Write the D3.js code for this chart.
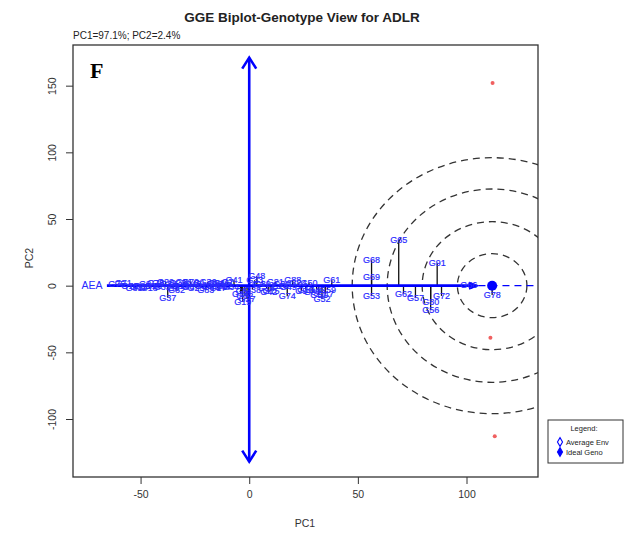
<!DOCTYPE html>
<html>
<head>
<meta charset="utf-8">
<script src="https://cdn.jsdelivr.net/npm/d3@7"></script>
<style>
  html, body { margin: 0; padding: 0; background: #fff; }
  svg { display: block; font-family: "Liberation Sans", Arial, sans-serif; }
</style>
</head>
<body>
<svg id="chart" width="627" height="537"></svg>
<script>
// Genotype scores on the first two principal components
const genoNames = [
  "G75","G71","G73","G11","G2","G18","G26","G3","G35","G29","G84","G37","G8","G23","G13","G31","G6","G40","G25","G1",
  "G20","G36","G43","G10","G17","G46","G22","G7","G34","G41",
  "G81","G85","G76","G82","G79","G83","G86","G87",
  "G5","G12","G19","G27","G44","G48","G33","G4","G38","G14","G21","G39","G15","G28","G74","G88","G24","G16","G9","G30",
  "G45","G52","G47","G61","G59","G32","G50","G42","G49","G51",
  "G68","G69","G53","G65","G62","G57","G80","G56","G91","G72","G66","G78"
];
const genoPC1 = [
  -61, -58, -55, -51, -48, -46, -44, -42, -40, -38.5, -37, -37.5, -35, -33, -31.5, -30, -28, -26, -24.5, -23,
  -21, -19, -17.5, -16, -14.5, -13, -11.5, -10, -8.5, -7,
  -53, -49.5, -43, -33.5, -27, -20, -15, -12,
  -3.5, -2, -3, -1, -4, 3.5, 2.5, 4, 1.5, 8, 12, 6, 10, 14, 17.5, 20, 22.5, 26, 24, 29,
  31, 33.5, 35, 38, 36, 15, 27.5, 9, 18, 32,
  56.3, 56.3, 56.3, 68.8, 71, 76.5, 83.5, 83.5, 86.5, 88.5, 101, 111.8
];
const genoPC2 = [
  1, 2, 0, -1, 1, -2, 0, 2, -1, 3, 1, -9, -2, 2, 0, 3, -1, 1, -2, 2,
  0, 3, -1, 1, -2, 2, 0, 3, -1, 4,
  -2, 0, 2, -3, 3, -3, 2, -1,
  -4, -8, -12, -10, -6, 7, 4, 1, -3, -2, 3, 1, -4, 0, -8, 4, 2, -3, -4, -5,
  -3, -10, -6, 4, -3, 1, 2, -5, -1, -7,
  19, 6.5, -7.7, 34, -6, -9, -12, -18.5, 17, -7.7, 0.5, -7
];

// Environment points and the ranking reference point
const envPC1 = [112, 111, 113];
const envPC2 = [152, -39, -113];
const idealPC1 = 111.8, idealPC2 = 0;

// Concentric rings around the ideal genotype (radii in PC1 / PC2 units)
const ringPC1 = [16, 32.2, 48.3, 64.4];
const ringPC2 = [24, 48, 72.5, 96];

// Axis lines: vertical PC2 arrow and average environment axis (AEA)
const vAxisPC2 = [-132, 171];
const aeaPC1 = [-65.5, 105.5];

const xTicks = [-50, 0, 50, 100];
const yTicks = [-100, -50, 0, 50, 100, 150];

const svg = d3.select("#chart");
const padL = 73, padR = 538, padT = 45, padB = 477;

const x = d3.scaleLinear().domain([-81.1, 132.9]).range([padL, padR]);
const y = d3.scaleLinear().domain([-143.5, 180.5]).range([padB, padT]);

const blue = "#0000ff";
const labelBlue = "#2a2aff";
const axisGrey = "#333";

svg.append("defs").append("clipPath").attr("id", "plotClip")
  .append("rect").attr("x", padL).attr("y", padT)
  .attr("width", padR - padL).attr("height", padB - padT);

// Titles
svg.append("text").attr("x", 302).attr("y", 22).attr("text-anchor", "middle")
  .attr("font-size", 13.5).attr("font-weight", "bold").attr("fill", "#222")
  .text("GGE Biplot-Genotype View for ADLR");
svg.append("text").attr("x", 73).attr("y", 39)
  .attr("font-size", 10).attr("fill", "#222")
  .text("PC1=97.1%; PC2=2.4%");

// Axes
const xAxis = d3.axisBottom(x).tickValues(xTicks).tickSize(7).tickPadding(7)
  .tickFormat(d => String(d));
const gx = svg.append("g").attr("transform", `translate(0,${padB})`).call(xAxis);
gx.select(".domain").remove();
gx.selectAll("line").attr("stroke", axisGrey);
gx.selectAll("text").attr("font-size", 10.5).attr("fill", axisGrey)
  .attr("font-family", "'Liberation Sans', Arial, sans-serif");

const yAxis = d3.axisLeft(y).tickValues(yTicks).tickSize(7)
  .tickFormat(d => String(d));
const gy = svg.append("g").attr("transform", `translate(${padL},0)`).call(yAxis);
gy.select(".domain").remove();
gy.selectAll("line").attr("stroke", axisGrey);
gy.selectAll("text")
  .attr("transform", "rotate(-90)")
  .attr("x", 0).attr("y", -21).attr("dy", "0.35em")
  .attr("text-anchor", "middle")
  .attr("font-size", 10.5).attr("fill", axisGrey)
  .attr("font-family", "'Liberation Sans', Arial, sans-serif");

svg.append("text").attr("x", 305).attr("y", 527).attr("text-anchor", "middle")
  .attr("font-size", 10.5).attr("fill", axisGrey).text("PC1");
svg.append("text").attr("transform", "translate(33,258) rotate(-90)")
  .attr("text-anchor", "middle").attr("font-size", 10.5).attr("fill", axisGrey).text("PC2");

const plot = svg.append("g").attr("clip-path", "url(#plotClip)");

// Rings
plot.selectAll("ellipse.ring").data(ringPC1).join("ellipse")
  .attr("class", "ring")
  .attr("cx", x(idealPC1)).attr("cy", y(idealPC2))
  .attr("rx", d => x(idealPC1 + d) - x(idealPC1))
  .attr("ry", (d, i) => y(idealPC2) - y(idealPC2 + ringPC2[i]))
  .attr("fill", "none").attr("stroke", "#333").attr("stroke-width", 1.3)
  .attr("stroke-dasharray", "7,5");

// Environment points
plot.selectAll("circle.env").data(envPC1).join("circle")
  .attr("class", "env")
  .attr("cx", d => x(d)).attr("cy", (d, i) => y(envPC2[i]))
  .attr("r", 2).attr("fill", "#f06060");

// Vertical double-headed arrow
const v0 = y(vAxisPC2[0]), v1 = y(vAxisPC2[1]), vx = x(0);
plot.append("line").attr("x1", vx).attr("x2", vx).attr("y1", v0).attr("y2", v1)
  .attr("stroke", blue).attr("stroke-width", 2.6);
plot.append("path")
  .attr("d", `M${vx - 7},${v1 + 11} L${vx},${v1} L${vx + 7},${v1 + 11}`)
  .attr("fill", "none").attr("stroke", blue).attr("stroke-width", 2.6);
plot.append("path")
  .attr("d", `M${vx - 7},${v0 - 11} L${vx},${v0} L${vx + 7},${v0 - 11}`)
  .attr("fill", "none").attr("stroke", blue).attr("stroke-width", 2.6);

// Projections of genotypes onto the AEA
plot.selectAll("line.proj").data(genoPC1).join("line")
  .attr("class", "proj")
  .attr("x1", d => x(d)).attr("x2", d => x(d))
  .attr("y1", y(0)).attr("y2", (d, i) => y(genoPC2[i]))
  .attr("stroke", "#111").attr("stroke-width", 1.3);

// AEA: solid arrow then dashed extension
const a0 = x(aeaPC1[0]), a1 = x(aeaPC1[1]), ay = y(0);
plot.append("line").attr("x1", a0).attr("x2", a1 - 6).attr("y1", ay).attr("y2", ay)
  .attr("stroke", blue).attr("stroke-width", 2.6);
plot.append("path")
  .attr("d", `M${a1 - 9},${ay - 3.5} L${a1},${ay} L${a1 - 9},${ay + 3.5} Z`)
  .attr("fill", blue).attr("stroke", blue).attr("stroke-width", 1);
plot.append("line").attr("x1", a1).attr("x2", padR).attr("y1", ay).attr("y2", ay)
  .attr("stroke", blue).attr("stroke-width", 1.4).attr("stroke-dasharray", "7,5");

plot.append("text").attr("x", a0 - 15).attr("y", ay).attr("dy", "0.35em")
  .attr("text-anchor", "middle").attr("font-size", 10.5).attr("fill", labelBlue).text("AEA");

// Ideal genotype marker
plot.append("circle").attr("cx", x(idealPC1)).attr("cy", y(idealPC2)).attr("r", 5)
  .attr("fill", blue);

// Genotype labels
plot.selectAll("text.geno").data(genoNames).join("text")
  .attr("class", "geno")
  .attr("x", (d, i) => x(genoPC1[i])).attr("y", (d, i) => y(genoPC2[i]))
  .attr("dy", "0.35em").attr("text-anchor", "middle")
  .attr("font-size", 9).attr("fill", labelBlue)
  .attr("stroke", labelBlue).attr("stroke-width", 0.2).text(d => d);

// Frame
svg.append("rect").attr("x", padL).attr("y", padT)
  .attr("width", padR - padL).attr("height", padB - padT)
  .attr("fill", "none").attr("stroke", "#333").attr("stroke-width", 1.3);

// Panel letter
svg.append("text").attr("x", 90).attr("y", 78)
  .attr("font-family", "'Liberation Serif', 'Times New Roman', serif")
  .attr("font-size", 22).attr("font-weight", "bold").attr("fill", "#000").text("F");

// Legend
const lg = svg.append("g");
lg.append("rect").attr("x", 548).attr("y", 420).attr("width", 75).attr("height", 43)
  .attr("fill", "#fff").attr("stroke", "#333").attr("stroke-width", 1);
lg.append("text").attr("x", 584).attr("y", 431).attr("text-anchor", "middle")
  .attr("font-size", 7.5).attr("fill", "#222").text("Legend:");
const legendItems = ["Average Env", "Ideal Geno"];
lg.selectAll("path.sym").data(legendItems).join("path")
  .attr("class", "sym")
  .attr("transform", (d, i) => `translate(560,${442 + i * 10})`)
  .attr("d", d3.symbol(d3.symbolDiamond, 22))
  .attr("fill", (d, i) => i === 0 ? "#fff" : blue)
  .attr("stroke", blue).attr("stroke-width", 1.1);
lg.selectAll("text.item").data(legendItems).join("text")
  .attr("class", "item")
  .attr("x", 566).attr("y", (d, i) => 442 + i * 10).attr("dy", "0.35em")
  .attr("font-size", 7.5).attr("fill", "#222").text(d => d);
</script>
</body>
</html>
